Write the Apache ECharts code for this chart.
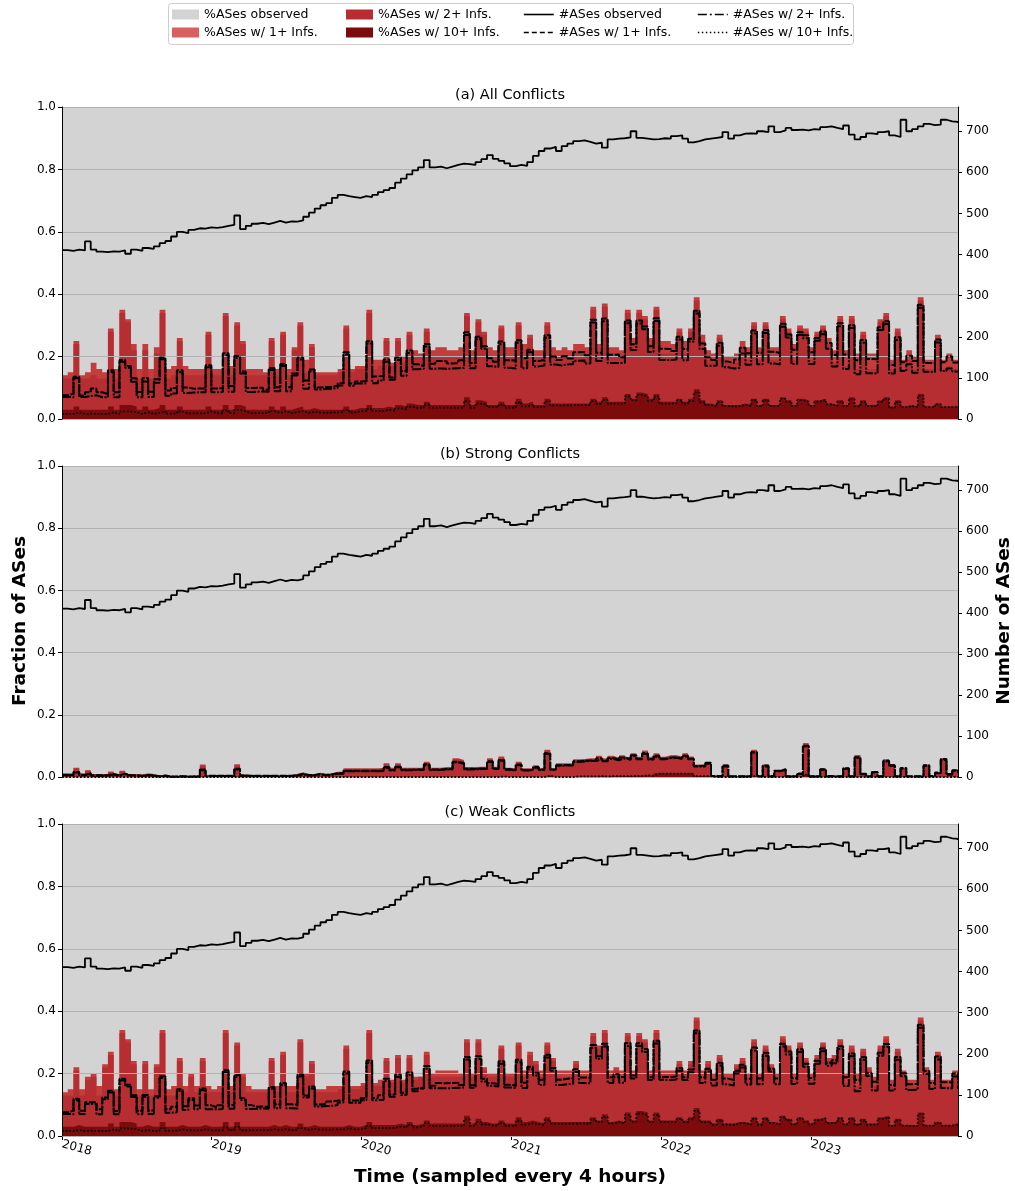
<!DOCTYPE html>
<html><head><meta charset="utf-8">
<script src="https://cdn.jsdelivr.net/npm/echarts@6/dist/echarts.min.js"></script>
<style>html,body{margin:0;padding:0;background:#fff}#chart{width:1015px;height:1191px}</style>
</head><body><div id="chart"></div>
<script>
// ---------------- DATA ----------------
// samples every 14 days starting 2018-01-01
const START_DATE = '2018-01-01';
const STEP_DAYS = 14;
const yearLabels = ['2018', '2019', '2020', '2021', '2022', '2023'];
const leftTickValues = [0, 0.2, 0.4, 0.6, 0.8, 1.0];
const rightTickValues = [0, 100, 200, 300, 400, 500, 600, 700];

// number of ASes observed
const observed = [411,409,412,410,432,412,407,406,408,407,410,402,412,409,416,414,420,428,433,444,
455,452,460,464,463,466,465,467,470,472,495,462,470,475,477,474,478,482,478,481,
480,483,492,502,512,520,525,538,545,542,540,538,542,540,545,552,557,562,575,585,
595,605,612,630,612,614,610,614,618,621,620,618,625,632,642,633,628,622,615,618,
616,625,640,652,658,662,652,664,670,676,678,674,670,672,660,680,682,683,685,700,
684,682,680,681,683,682,688,690,682,673,676,680,682,684,686,698,682,690,694,695,
694,700,698,712,698,702,708,703,704,702,705,704,710,712,708,705,714,692,680,686,
695,693,698,700,690,686,728,700,705,712,718,715,716,728,724,723,720];

// (a) All conflicts: % of observed ASes with 1+/2+/10+ inferences
const allShare1 = [14,15,25,14,15,18,16,15,29,16, 35,32,24,16,24,16,23,35,16,17,
26,17,16,16,16,28,16,16,34,17, 31,25,16,16,16,15,26,16,28,16,
23,31,19,24,15,15,15,15,16,30, 16,17,17,35,19,19,26,18,26,20,
28,22,21,29,22,23,23,22,22,23, 34,22,32,28,23,22,30,23,23,31,
24,27,22,22,31,23,22,23,22,24, 24,23,36,24,37,23,23,22,35,26,
35,33,26,36,25,25,24,29,25,29, 39,27,22,21,27,20,20,21,25,23,
31,23,31,23,23,33,29,24,30,29, 23,28,30,26,22,33,22,33,21,28,
21,21,32,34,19,29,19,22,20,39, 19,19,27,19,21,19,19];
const allShare2 = [13,13,24,13,13,14,13,13,28,13, 34,31,22,13,22,13,21,34,13,14,
25,14,14,14,14,27,14,14,33,14, 30,24,14,14,14,14,25,14,27,14,
22,30,15,23,14,14,14,14,15,29, 15,16,16,34,16,17,25,17,25,18,
27,20,20,28,20,20,20,20,20,20, 33,20,31,27,20,20,29,20,20,30,
20,26,20,20,30,20,20,20,20,21, 21,20,35,21,36,20,20,20,34,24,
34,32,24,35,21,21,21,28,21,28, 38,25,19,19,26,18,18,18,23,19,
30,19,30,19,19,32,28,19,29,28, 19,27,29,24,18,32,17,32,16,27,
16,16,31,33,16,28,16,19,16,38, 16,16,26,16,17,16,16];
const allShare10 = [3,3,4,3,3,3,3,3,4,3, 4.5,4.5,4,3,4,3,3.5,4.5,3,3,
4,3,3,3,3,4,3,3,4.5,3, 4.5,4,3,3,3,3,4,3,4,3,
3.5,4,3,3.5,3,3,3,3,3,4, 3,3.5,3.5,4.5,3.5,3.5,4,3.5,4.5,4,
5,4.5,4.5,5.5,4.5,4.5,4.5,4.5,4.5,4.5, 7,4.5,6,5.5,4.5,4.5,5.5,4.5,4.5,6.5,
5,5.5,4.5,4.5,6.5,5,5,5,5,5, 5,5,6.5,5.5,7,5.5,5.5,5.5,8,6.5,
8.5,8,6.5,8,5.5,5.5,5.5,6.5,5.5,6.5, 9.5,6,5,4.5,6,4.5,4.5,4.5,5,4.5,
6.5,4.5,6.5,4.5,4.5,7,6,4.5,6.5,6, 4.5,6,6.5,5,4.5,6,4.5,7,4.5,6,
4.5,4.5,6,7,4,6,4,4.5,4,8, 4,4,5,4,4,4,4];

// (b) Strong conflicts
const strongShare1 = [1.2,1.2,3.0,1.2,2.2,1.0,1.0,1.0,1.8,1.0, 2.0,1.0,1.0,0.8,1.2,1.0,0.4,0.8,0.3,0.3,
0.4,0.3,0.3,0.3,4.0,0.6,0.6,0.6,0.6,0.6, 4.1,0.8,0.6,0.6,0.6,0.6,0.6,0.6,0.6,0.6,
1.0,1.5,1.0,1.0,1.4,1.0,1.2,1.7,1.7,2.8, 2.8,2.8,2.8,2.8,2.8,2.9,4.4,3.0,4.4,3.0,
3.0,3.0,3.0,4.9,3.0,3.0,3.2,3.2,6.0,5.5, 3.2,3.2,3.3,3.3,6.0,3.3,6.6,3.0,2.8,4.9,
2.8,2.8,3.8,2.8,8.8,2.8,4.4,4.4,4.4,5.7, 5.8,6.0,6.0,6.8,6.0,6.8,6.2,7.0,6.3,7.6,
6.5,8.5,6.5,7.6,6.5,7.0,7.0,6.6,7.6,6.6, 4.0,4.0,5.0,0.4,0.3,4.0,0.3,0.3,0.3,0.3,
8.8,0.3,4.0,0.3,2.2,2.7,0.3,0.3,1.2,10.9, 0.3,0.3,2.7,0.3,0.3,0.3,3.0,0.3,7.1,1.2,
0.3,1.8,0.3,5.7,4.2,0.3,3.0,0.3,0.3,0.3, 4.0,0.3,1.5,6.0,1.0,2.3,1.5];
const strongShare2 = [1.0,1.0,2.7,1.0,2.0,0.8,0.8,0.8,1.5,0.8, 1.7,0.8,0.8,0.6,1.0,0.8,0.3,0.6,0.2,0.2,
0.3,0.2,0.2,0.2,3.6,0.5,0.5,0.5,0.5,0.5, 3.7,0.6,0.5,0.5,0.5,0.5,0.5,0.5,0.5,0.5,
0.8,1.3,0.8,0.8,1.2,0.8,1.0,1.5,1.5,2.6, 2.6,2.6,2.6,2.6,2.6,2.7,4.1,2.8,4.1,2.8,
2.8,2.8,2.8,4.6,2.8,2.8,3.0,3.0,5.7,5.2, 3.0,3.0,3.1,3.1,5.7,3.1,6.3,2.8,2.6,4.6,
2.6,2.6,3.5,2.6,8.5,2.6,4.2,4.2,4.2,5.4, 5.6,5.8,5.8,6.5,5.8,6.5,6.0,6.7,6.1,7.3,
6.3,8.2,6.3,7.3,6.3,6.8,6.8,6.4,7.3,6.4, 3.8,3.8,4.7,0.3,0.2,3.7,0.2,0.2,0.2,0.2,
8.5,0.2,3.7,0.2,2.0,2.5,0.2,0.2,1.0,10.6, 0.2,0.2,2.5,0.2,0.2,0.2,2.8,0.2,6.8,1.0,
0.2,1.6,0.2,5.4,4.0,0.2,2.8,0.2,0.2,0.2, 3.7,0.2,1.3,5.7,0.8,2.1,1.3];
const strongShare10 = [0,0,0,0,0,0,0,0,0,0, 0,0,0,0,0,0,0,0,0,0,
0,0,0,0,0,0,0,0,0,0, 0,0,0,0,0,0,0,0,0,0,
0,0,0,0,0,0,0,0,0,0, 0,0,0,0,0,0,0,0,0,0,
0,0,0,0,0,0,0,0,0,0, 0,0,0,0,0,0,0.2,0,0,0,
0,0,0,0,0.5,0,0,0,0,0.2, 0.2,0.2,0.2,0.3,0.2,0.3,0.3,0.3,0.3,0.4,
0.4,0.6,0.5,1.2,1.2,1.2,1.2,1.2,1.2,1.2, 0.3,0.3,0.3,0,0,0,0,0,0,0,
0.5,0,0,0,0,0,0,0,0,0.8, 0,0,0,0,0,0,0,0,0,0,
0,0,0,0,0,0,0,0,0,0, 0,0,0,0,0,0,0];

// (c) Weak conflicts
const weakShare1 = [14,15,22,15,19,20,16,23,27,15, 34,31,24,15,24,15,23,34,15,16,
25,16,20,16,25,16,15,16,34,16, 30,20,16,15,15,15,25,16,27,16,
16,31,20,24,15,15,16,16,16,29, 16,16,17,34,17,18,25,18,26,18,
26,19,19,27,20,21,21,21,21,20, 31,20,31,22,20,20,29,20,20,30,
21,27,24,21,30,25,21,21,21,24, 21,21,33,29,34,21,22,21,33,21,
33,31,21,34,21,21,21,24,21,24, 38,21,24,20,26,20,20,23,25,20,
31,20,29,23,20,32,29,20,30,25, 20,26,30,25,26,31,20,29,20,28,
22,19,29,32,18,28,21,18,18,38, 22,18,27,18,18,21,18];
const weakShare2 = [13,13,21,13,18,19,13,22,26,13, 33,30,23,13,23,13,22,33,13,13,
24,14,19,14,24,14,14,14,33,14, 29,19,14,14,14,14,24,14,26,14,
14,30,19,23,14,14,14,14,15,28, 15,15,16,33,16,16,24,17,25,17,
25,18,19,26,19,19,19,19,19,19, 30,19,30,21,19,19,28,19,19,29,
19,26,23,19,29,24,19,19,19,23, 19,19,32,28,33,19,21,19,32,20,
32,30,20,33,20,20,20,23,20,23, 37,19,23,18,25,18,18,22,24,18,
30,18,28,22,18,31,28,18,29,24, 18,25,29,24,25,30,17,28,16,27,
21,16,28,31,16,27,20,16,16,37, 21,16,26,16,16,20,16];
const weakShare10 = [3,3,3.5,3,3,3,3,3,4,3, 4.5,4.5,4,3,3.5,3,3,4.5,3,3,
3.5,3,3,3,3.5,3,3,3,4.5,3, 4.5,3,3,3,3,3,3.5,3,3.5,3,
3,4,3,3.5,3,3,3,3,3,3.5, 3,3,3.5,4.5,3.5,3.5,3.5,3.5,4,3.5,
4.5,3.5,4,5,4,4,4,4,4,4, 6.5,4,5.5,4.5,4,4,5,4,4,6,
4.5,5,4.5,4,6,4.5,4.5,4.5,4.5,4.5, 4.5,4.5,6,5,7,4.5,5,4.5,7.5,5,
8,7.5,5,7.5,5,5,5,6,5,6, 9,5,5,4,5.5,4,4,4.5,4.5,4,
6,4,6,4.5,4,6.5,5.5,4,6,5, 4,5.5,6,4.5,4.5,6,4,6,4,5.5,
4,4,6,6.5,3.5,5.5,3.5,3.5,3.5,7.5, 3.5,3.5,4.5,3.5,3.5,4,3.5];

// ---------------- CHART ----------------
const DAY_MS = 864e5;
const day0 = Date.parse(START_DATE + 'T00:00:00Z');
const days = observed.map((_, i) => i * STEP_DAYS);
const yearDays = yearLabels.map(y => (Date.parse(y + '-01-01T00:00:00Z') - day0) / DAY_MS);
const X_MAX = days[days.length - 1];
const RIGHT_MAX = 759;

const FONT = '"DejaVu Sans", "Liberation Sans", sans-serif';
const COL_OBS = '#d3d3d3', COL_1 = '#d9605e', COL_1_FILL = '#c33d3d', COL_2 = '#b62e32', COL_10 = '#7d0b0c';
// legend dash patterns (matplotlib-like) and in-plot patterns (denser, as the dense jittery data reads)
const L_DASH = [5, 3], L_DASHDOT = [9, 3, 2, 3], L_DOT = [1.5, 2.5];
const P_DASH = [7, 1.5], P_DASHDOT = [9, 1.5, 2, 1.5], P_DOT = [1.8, 1.8];

const panels = [
  { title: '(a) All Conflicts', top: 107, height: 312, s1: allShare1, s2: allShare2, s10: allShare10 },
  { title: '(b) Strong Conflicts', top: 466, height: 311, s1: strongShare1, s2: strongShare2, s10: strongShare10 },
  { title: '(c) Weak Conflicts', top: 824, height: 312, s1: weakShare1, s2: weakShare2, s10: weakShare10 }
];

const grids = [], xAxes = [], yAxes = [], series = [], graphics = [];
const lineBase = { type: 'line', step: 'end', symbol: 'none', showSymbol: false, silent: true, animation: false };

series.push({ name: '%ASes observed', type: 'line', data: [], xAxisIndex: 0, yAxisIndex: 0, itemStyle: { color: COL_OBS } });

panels.forEach((p, pi) => {
  grids.push({ left: 62, right: 57, top: p.top, height: p.height, show: true, backgroundColor: COL_OBS, borderWidth: 0 });
  const last = pi === panels.length - 1;
  xAxes.push({
    type: 'value', gridIndex: pi, min: 0, max: X_MAX,
    axisLine: { show: true, onZero: false, lineStyle: { color: '#000', width: 1 } },
    axisTick: { show: last, customValues: yearDays, length: 4, lineStyle: { color: '#000' } },
    axisLabel: {
      show: last, customValues: yearDays, rotate: -15, margin: 8,
      fontFamily: FONT, fontSize: 12, color: '#000',
      formatter: v => { const i = yearDays.indexOf(v); return i >= 0 ? yearLabels[i] : ''; }
    },
    splitLine: { show: false }
  });
  yAxes.push({
    type: 'value', gridIndex: pi, position: 'left', min: 0, max: 1, z: 3,
    axisLine: { show: true, lineStyle: { color: '#000', width: 1 } },
    axisTick: { show: true, customValues: leftTickValues, length: 4, lineStyle: { color: '#000' } },
    axisLabel: { customValues: leftTickValues, margin: 6, fontFamily: FONT, fontSize: 12, color: '#000', formatter: v => v.toFixed(1) },
    splitLine: { show: true, lineStyle: { color: '#b3b3b3', width: 1 } }
  });
  yAxes.push({
    type: 'value', gridIndex: pi, position: 'right', min: 0, max: RIGHT_MAX,
    axisLine: { show: true, lineStyle: { color: '#000', width: 1 } },
    axisTick: { show: true, customValues: rightTickValues, length: 4, lineStyle: { color: '#000' } },
    axisLabel: { customValues: rightTickValues, margin: 8, fontFamily: FONT, fontSize: 12, color: '#000' },
    splitLine: { show: false }
  });
  const ly = pi * 2, ry = pi * 2 + 1;
  const share = arr => arr.map((v, i) => [days[i], v / 100]);
  const count = arr => arr.map((v, i) => [days[i], v / 100 * observed[i]]);
  const area = (name, arr, color) => Object.assign({}, lineBase, {
    name, xAxisIndex: pi, yAxisIndex: ly, data: share(arr), z: 2,
    itemStyle: { color }, lineStyle: { width: 0, color }, areaStyle: { color, opacity: 1 }
  });
  series.push(area('%ASes w/ 1+ Infs.', p.s1, COL_1_FILL));
  series.push(area('%ASes w/ 2+ Infs.', p.s2, COL_2));
  series.push(area('%ASes w/ 10+ Infs.', p.s10, COL_10));
  const cline = (name, data, type, width, z) => Object.assign({}, lineBase, {
    name, xAxisIndex: pi, yAxisIndex: ry, data, z,
    itemStyle: { color: '#000' }, lineStyle: { color: '#000', width, type }
  });
  series.push(cline('#ASes w/ 10+ Infs.', count(p.s10), P_DOT, 1.8, 4));
  series.push(cline('#ASes w/ 2+ Infs.', count(p.s2), P_DASHDOT, 2, 4));
  series.push(cline('#ASes w/ 1+ Infs.', count(p.s1), P_DASH, 2, 4));
  series.push(cline('#ASes observed', observed.map((v, i) => [days[i], v]), 'solid', 1.8, 5));

  graphics.push({ type: 'text', x: 510, y: p.top - 12, style: {
    text: p.title, font: '14.5px ' + FONT, fill: '#000',
    align: 'center', verticalAlign: 'middle', textAlign: 'center', textVerticalAlign: 'middle' } });
});

graphics.unshift({ type: 'rect', shape: { x: 168.5, y: 3.5, width: 685, height: 41, r: 3 },
  style: { fill: '#ffffff', stroke: '#cccccc', lineWidth: 1 }, z: 0 });
graphics.push({ type: 'text', x: 20, y: 621, rotation: Math.PI / 2, style: {
  text: 'Fraction of ASes', font: 'bold 18.5px ' + FONT, fill: '#000',
  align: 'center', verticalAlign: 'middle', textAlign: 'center', textVerticalAlign: 'middle' } });
graphics.push({ type: 'text', x: 1004, y: 621, rotation: Math.PI / 2, style: {
  text: 'Number of ASes', font: 'bold 18.5px ' + FONT, fill: '#000',
  align: 'center', verticalAlign: 'middle', textAlign: 'center', textVerticalAlign: 'middle' } });
graphics.push({ type: 'text', x: 510, y: 1177, style: {
  text: 'Time (sampled every 4 hours)', font: 'bold 18.5px ' + FONT, fill: '#000',
  align: 'center', verticalAlign: 'middle', textAlign: 'center', textVerticalAlign: 'middle' } });

const legendBase = { orient: 'vertical', top: 8, itemWidth: 27, itemHeight: 10, itemGap: 5, padding: 0,
  selectedMode: false, textStyle: { fontFamily: FONT, fontSize: 12.5, color: '#000' } };
const lineItem = (name, type) => ({ name, itemStyle: { opacity: 0, borderWidth: 0 },
  lineStyle: { type, width: 1.6, color: '#000' } });

const chart = echarts.init(document.getElementById('chart'), null, { renderer: 'canvas' });
chart.setOption({
  animation: false,
  backgroundColor: '#ffffff',
  grid: grids, xAxis: xAxes, yAxis: yAxes, series,
  graphic: graphics,
  legend: [
    Object.assign({}, legendBase, { left: 172, data: [
      { name: '%ASes observed', icon: 'rect', itemStyle: { color: COL_OBS } },
      { name: '%ASes w/ 1+ Infs.', icon: 'rect', itemStyle: { color: COL_1 } }] }),
    Object.assign({}, legendBase, { left: 346, data: [
      { name: '%ASes w/ 2+ Infs.', icon: 'rect', itemStyle: { color: COL_2 } },
      { name: '%ASes w/ 10+ Infs.', icon: 'rect', itemStyle: { color: COL_10 } }] }),
    Object.assign({}, legendBase, { left: 523, itemWidth: 30, data: [
      lineItem('#ASes observed', 'solid'), lineItem('#ASes w/ 1+ Infs.', L_DASH)] }),
    Object.assign({}, legendBase, { left: 697, itemWidth: 30, data: [
      lineItem('#ASes w/ 2+ Infs.', L_DASHDOT), lineItem('#ASes w/ 10+ Infs.', L_DOT)] })
  ]
});
</script></body></html>
